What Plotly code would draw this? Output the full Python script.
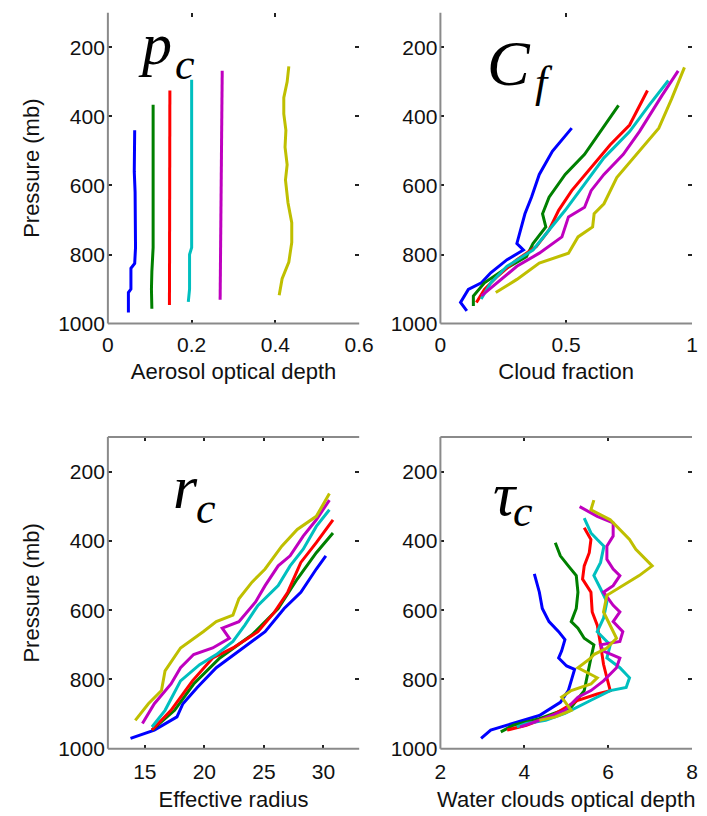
import plotly.graph_objects as go

W, H = 707, 816
colors = ["#0000ff", "#008000", "#ff0000", "#00bfbf", "#bf00bf", "#bfbf00"]

# ---- Panel 1: Aerosol optical depth (p_c) ----
aod_pressure = [
    [440, 560, 620, 700, 780, 826, 840, 900, 910, 968],
    [366, 500, 650, 780, 850, 900, 957],
    [325, 500, 700, 946],
    [294, 500, 700, 780, 800, 900, 937],
    [268, 400, 600, 700, 760, 850, 931],
    [255, 300, 346, 393, 440, 489, 540, 584, 650, 708, 765, 822, 870, 918],
]
aod_values = [
    [0.064, 0.063, 0.065, 0.065, 0.066, 0.064, 0.055, 0.055, 0.049, 0.049],
    [0.108, 0.108, 0.109, 0.108, 0.105, 0.104, 0.105],
    [0.148, 0.148, 0.148, 0.147],
    [0.200, 0.200, 0.200, 0.200, 0.195, 0.195, 0.192],
    [0.273, 0.272, 0.272, 0.270, 0.270, 0.270, 0.268],
    [0.432, 0.428, 0.420, 0.420, 0.425, 0.423, 0.428, 0.424, 0.430, 0.439, 0.439, 0.432, 0.416, 0.409],
]

# ---- Panel 2: Cloud fraction (C_f) ----
cf_pressure = [
    [434, 501, 568, 634, 682, 729, 768, 787, 815, 853, 882, 901, 939, 963],
    [368, 444, 510, 568, 634, 682, 720, 768, 806, 844, 882, 920, 949],
    [325, 425, 482, 549, 615, 672, 729, 777, 815, 863, 901, 939],
    [296, 368, 444, 520, 596, 672, 729, 787, 834, 882, 929],
    [268, 339, 444, 510, 568, 615, 663, 691, 749, 796, 834, 882, 920],
    [258, 349, 434, 510, 577, 653, 682, 720, 749, 796, 825, 872, 910],
]
cf_values = [
    [0.522, 0.445, 0.393, 0.362, 0.336, 0.317, 0.304, 0.330, 0.265, 0.200, 0.163, 0.111, 0.080, 0.105],
    [0.708, 0.637, 0.573, 0.496, 0.432, 0.406, 0.419, 0.368, 0.342, 0.252, 0.175, 0.131, 0.131],
    [0.823, 0.752, 0.675, 0.599, 0.522, 0.470, 0.432, 0.381, 0.304, 0.227, 0.175, 0.143],
    [0.906, 0.829, 0.752, 0.650, 0.573, 0.496, 0.432, 0.368, 0.265, 0.200, 0.162],
    [0.945, 0.881, 0.791, 0.727, 0.650, 0.599, 0.573, 0.509, 0.483, 0.393, 0.304, 0.227, 0.163],
    [0.970, 0.919, 0.868, 0.778, 0.701, 0.650, 0.611, 0.605, 0.547, 0.509, 0.393, 0.304, 0.220],
]

# ---- Panel 3: Effective radius (r_c) ----
re_pressure = [
    [443, 481, 548, 595, 662, 718, 766, 823, 870, 908, 946, 970],
    [377, 434, 510, 595, 671, 738, 813, 889, 946],
    [339, 405, 462, 548, 605, 662, 709, 738, 804, 889, 946],
    [310, 358, 424, 472, 529, 586, 643, 690, 728, 757, 804, 889, 937],
    [282, 339, 386, 443, 472, 529, 576, 633, 652, 681, 709, 728, 766, 813, 870, 927],
    [263, 329, 367, 415, 481, 519, 567, 614, 633, 662, 709, 775, 832, 870, 918],
]
re_values = [
    [30.2, 29.4, 28.1, 26.7, 25.1, 22.9, 21.0, 19.4, 18.2, 17.7, 15.8, 13.8],
    [30.8, 29.4, 27.8, 26.2, 24.0, 21.3, 19.1, 17.5, 15.6],
    [30.8, 29.4, 28.1, 27.0, 25.9, 24.5, 22.4, 20.7, 19.0, 17.2, 15.6],
    [30.5, 29.4, 28.3, 27.2, 26.2, 24.5, 23.4, 22.4, 21.0, 19.6, 18.0, 16.7, 15.6],
    [30.5, 29.4, 28.3, 27.2, 26.2, 25.1, 24.3, 22.9, 21.5, 22.1, 20.7, 19.1, 18.0, 17.2, 15.8, 14.8],
    [30.5, 29.4, 27.8, 26.5, 25.1, 24.0, 22.9, 22.4, 21.0, 19.9, 18.0, 16.7, 16.4, 15.3, 14.2],
]

# ---- Panel 4: Water clouds optical depth (tau_c) ----
tau_pressure = [
    [495, 548, 595, 633, 662, 685, 718, 738, 761, 771, 832, 866, 904, 927, 946, 970],
    [405, 443, 472, 500, 548, 595, 633, 652, 681, 700, 738, 785, 832, 880, 913, 932, 951],
    [362, 396, 434, 472, 510, 548, 605, 643, 700, 756, 795, 832, 842, 860, 904, 932, 946],
    [334, 377, 396, 415, 462, 500, 538, 576, 623, 643, 662, 700, 738, 766, 795, 823, 832, 860, 898, 918, 927, 937],
    [301, 329, 348, 386, 415, 453, 481, 500, 529, 548, 586, 605, 633, 662, 690, 700, 718, 738, 766, 804, 832, 851, 889, 918, 937],
    [282, 310, 339, 367, 396, 424, 453, 472, 500, 529, 557, 605, 643, 681, 709, 728, 738, 766, 795, 813, 832, 851, 889, 908, 918],
]
tau_values = [
    [4.24, 4.36, 4.43, 4.59, 4.82, 4.97, 4.89, 4.82, 5.01, 5.20, 5.05, 4.86, 4.36, 3.74, 3.20, 2.97],
    [4.74, 4.86, 5.05, 5.24, 5.28, 5.24, 5.12, 5.28, 5.43, 5.66, 5.59, 5.51, 5.43, 5.12, 4.36, 3.74, 3.44],
    [5.43, 5.59, 5.55, 5.43, 5.39, 5.59, 5.62, 5.74, 5.82, 5.89, 5.97, 6.05, 5.74, 5.28, 4.66, 4.05, 3.59],
    [5.43, 5.59, 5.74, 5.90, 5.82, 5.66, 5.82, 5.97, 5.89, 5.82, 5.74, 6.05, 5.97, 6.28, 6.51, 6.43, 6.05, 5.59, 4.97, 4.51, 4.05, 3.82],
    [5.32, 5.74, 6.12, 6.12, 5.97, 5.97, 6.12, 6.28, 6.12, 5.89, 6.12, 6.28, 6.12, 6.35, 6.28, 5.82, 5.89, 6.28, 6.20, 5.89, 5.59, 5.28, 4.97, 4.36, 3.90],
    [5.66, 5.59, 6.05, 6.28, 6.51, 6.66, 6.89, 7.05, 6.74, 6.35, 5.97, 5.89, 6.05, 6.20, 5.97, 5.66, 5.59, 5.28, 5.74, 5.59, 5.12, 4.89, 5.12, 4.74, 4.36],
]

x_titles = ["Aerosol optical depth", "Cloud fraction", "Effective radius", "Water clouds optical depth"]
x_ranges = [[0, 0.6], [0, 1.0], [11.9, 33.0], [2, 8]]
x_ticks = [[0, 0.2, 0.4, 0.6], [0, 0.5, 1], [15, 20, 25, 30], [2, 4, 6, 8]]
x_ticktext = [["0", "0.2", "0.4", "0.6"], ["0", "0.5", "1"], ["15", "20", "25", "30"], ["2", "4", "6", "8"]]
y_ticks = [200, 400, 600, 800, 1000]
label_main = ["p", "C", "r", "τ"]
label_sub = ["c", "f", "c", "c"]


def px(x):
    return x / W


def py(y):
    return 1 - y / H


x_domains = [[px(105), px(364)], [px(447.7), 1.0], [px(105), px(364)], [px(447.7), 1.0]]
y_domains = [[py(328), py(13)], [py(328), py(13)], [py(759), py(443)], [py(759), py(443)]]

fig = go.Figure()
data_sets = [(aod_pressure, aod_values), (cf_pressure, cf_values),
             (re_pressure, re_values), (tau_pressure, tau_values)]

font_family = "Liberation Sans, Arial, sans-serif"
serif = "Liberation Serif, Times New Roman, serif"
axis_gray = "#8a8a8a"
tick_font = dict(family=font_family, size=21, color="#111")
title_font = dict(family=font_family, size=22, color="#111")

for k, (pp, vv) in enumerate(data_sets):
    xa = "x" if k == 0 else f"x{k+1}"
    ya = "y" if k == 0 else f"y{k+1}"
    for i in range(6):
        fig.add_trace(go.Scatter(x=vv[i], y=pp[i], mode="lines",
                                 line=dict(color=colors[i], width=3),
                                 xaxis=xa, yaxis=ya, showlegend=False,
                                 hoverinfo="skip"))
    xkey = "xaxis" if k == 0 else f"xaxis{k+1}"
    ykey = "yaxis" if k == 0 else f"yaxis{k+1}"
    fig.layout[xkey] = dict(domain=x_domains[k], range=x_ranges[k], anchor=ya,
                            tickvals=x_ticks[k], ticktext=x_ticktext[k],
                            ticks="inside", ticklen=4, tickwidth=1.5, tickcolor="#222",
                            mirror="ticks", showline=False, showgrid=False, zeroline=False,
                            ticklabelstandoff=8 if k >= 2 else 6, tickfont=tick_font,
                            title=dict(text=x_titles[k], standoff=9, font=title_font))
    ydict = dict(domain=y_domains[k], range=[1000, 100], anchor=xa,
                 tickvals=y_ticks, ticks="inside", ticklen=4, tickwidth=1.5,
                 tickcolor="#222", mirror="ticks", showline=False,
                 showgrid=False, zeroline=False, ticklabelstandoff=2,
                 tickfont=tick_font)
    if k in (0, 2):
        ydict["title"] = dict(text="Pressure (mb)", standoff=12, font=title_font)
    fig.layout[ykey] = ydict
    # visible frame lines: left, bottom (and top for lower panels)
    xr = f"{xa} domain"
    yr = f"{ya} domain"
    fig.add_shape(type="line", xref=xr, yref=yr, x0=0, x1=0, y0=0, y1=1,
                  line=dict(color=axis_gray, width=2))
    fig.add_shape(type="line", xref=xr, yref=yr, x0=0, x1=1, y0=0, y1=0,
                  line=dict(color=axis_gray, width=2))
    if k >= 2:
        fig.add_shape(type="line", xref=xr, yref=yr, x0=0, x1=1, y0=1, y1=1,
                      line=dict(color=axis_gray, width=2))

# panel labels: (main x, main center y, main size, sub x, sub center y, sub size)
label_pos = [
    (134, 45, 60, 172, 65, 44),
    (494, 64, 64, 543, 84, 44),
    (170, 494, 62, 194, 515, 44),
    (500, 501, 62, 520, 518, 44),
]
for k in range(4):
    mx, my, ms, sx, sy, ss = label_pos[k]
    fig.add_annotation(x=px(mx), y=py(my), xref="paper", yref="paper",
                       xanchor="left", yanchor="middle", showarrow=False,
                       text=f"<i>{label_main[k]}</i>",
                       font=dict(family=serif, size=ms, color="#000"))
    fig.add_annotation(x=px(sx), y=py(sy), xref="paper", yref="paper",
                       xanchor="left", yanchor="middle", showarrow=False,
                       text=f"<i>{label_sub[k]}</i>",
                       font=dict(family=serif, size=ss, color="#000"))

fig.update_layout(width=W, height=H, margin=dict(l=0, r=0, t=0, b=0),
                  paper_bgcolor="white", plot_bgcolor="white")

fig.write_html("out.html")
